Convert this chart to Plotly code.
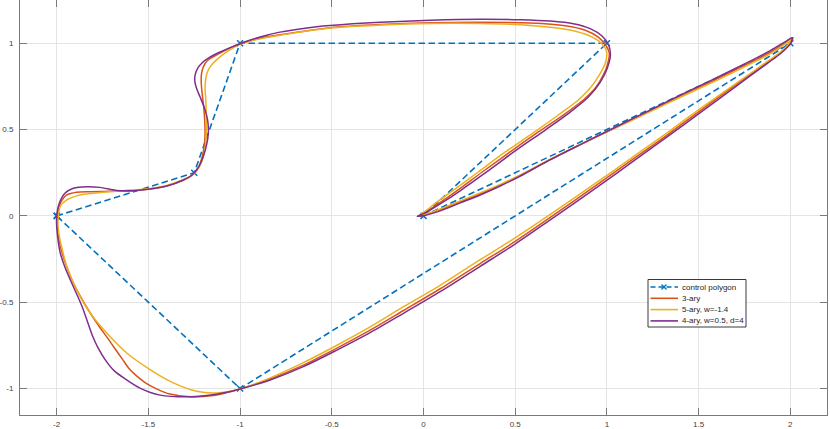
import plotly.graph_objects as go

# control polygon
ctrl_x = [-2, -1.25, -1, 1, 0, 2, -1, -2]
ctrl_y = [0, 0.25, 1, 1, 0, 1, -1, 0]

# 3-ary curve
c3_x = [-1.982, -1.996, -1.996, -1.980, -1.945, -1.891, -1.818, -1.709, -1.582, -1.491, -1.400, -1.309,
        -1.262, -1.229, -1.207, -1.195, -1.191, -1.193, -1.199, -1.207, -1.212, -1.210, -1.199, -1.178,
        -1.109, -1.044, -1.000, -0.891, -0.782, -0.509, -0.236, 0.037, 0.309, 0.582, 0.773, 0.882, 0.953,
        0.994, 1.013, 1.002, 0.980, 0.937, 0.871, 0.762, 0.626, 0.472, 0.320, 0.189, 0.080, 0.004, -0.032,
        0.009, 0.091, 0.200, 0.309, 0.418, 0.528, 0.673, 0.855, 1.037, 1.219, 1.400, 1.582, 1.764, 1.891,
        1.973, 2.014, 2.001, 1.946, 1.873, 1.691, 1.509, 1.328, 1.146, 0.964, 0.691, 0.491, 0.309, 0.091,
        -0.109, -0.291, -0.472, -0.655, -0.836, -1.000, -1.146, -1.273, -1.382, -1.458, -1.518, -1.566,
        -1.607, -1.640, -1.678, -1.720, -1.767, -1.818, -1.873, -1.917, -1.955, -1.982]
c3_y = [-0.168, -0.069, 0.006, 0.073, 0.121, 0.137, 0.140, 0.142, 0.146, 0.155, 0.173, 0.208,
        0.234, 0.277, 0.341, 0.410, 0.480, 0.555, 0.636, 0.711, 0.775, 0.827, 0.866, 0.900,
        0.942, 0.977, 0.997, 1.029, 1.049, 1.090, 1.108, 1.118, 1.121, 1.117, 1.101, 1.075, 1.035,
        0.988, 0.942, 0.873, 0.815, 0.740, 0.671, 0.584, 0.486, 0.370, 0.254, 0.150, 0.069, 0.017, -0.003,
        0.006, 0.035, 0.081, 0.127, 0.178, 0.234, 0.317, 0.413, 0.506, 0.600, 0.693, 0.784, 0.879, 0.948,
        1.003, 1.032, 1.000, 0.943, 0.887, 0.750, 0.610, 0.468, 0.331, 0.194, -0.009, -0.154, -0.276, -0.422,
        -0.548, -0.662, -0.766, -0.864, -0.944, -1.002, -1.040, -1.048, -1.032, -1.000, -0.965, -0.925,
        -0.882, -0.832, -0.775, -0.711, -0.642, -0.561, -0.462, -0.370, -0.266, -0.168]

# 5-ary curve, w=-1.4
c5_x = [-1.969, -1.984, -1.993, -1.991, -1.982, -1.945, -1.873, -1.764, -1.637, -1.491, -1.400, -1.309,
        -1.262, -1.224, -1.202, -1.189, -1.184, -1.184, -1.187, -1.191, -1.188, -1.180, -1.161, -1.127,
        -1.073, -1.000, -0.891, -0.782, -0.509, -0.236, 0.037, 0.309, 0.528, 0.691, 0.828, 0.920, 0.975,
        0.999, 0.991, 0.958, 0.909, 0.844, 0.735, 0.598, 0.446, 0.298, 0.173, 0.075, 0.004, -0.023,
        0.009, 0.091, 0.200, 0.309, 0.418, 0.528, 0.673, 0.855, 1.037, 1.219, 1.400, 1.582, 1.764, 1.891,
        1.967, 2.001, 1.990, 1.946, 1.873, 1.691, 1.509, 1.328, 1.146, 0.964, 0.691, 0.491, 0.309,
        0.091, -0.109, -0.291, -0.472, -0.655, -0.836, -1.000, -1.127, -1.236, -1.364, -1.491, -1.618,
        -1.727, -1.818, -1.891, -1.945, -1.969]
c5_y = [-0.197, -0.127, -0.058, -0.004, 0.052, 0.092, 0.121, 0.135, 0.146, 0.159, 0.176, 0.211,
        0.234, 0.280, 0.335, 0.399, 0.480, 0.566, 0.671, 0.740, 0.786, 0.827, 0.867, 0.905,
        0.950, 0.994, 1.026, 1.046, 1.088, 1.105, 1.114, 1.114, 1.107, 1.092, 1.069, 1.035, 0.994,
        0.948, 0.884, 0.815, 0.740, 0.671, 0.584, 0.480, 0.370, 0.254, 0.156, 0.081, 0.023, 0.003,
        0.009, 0.040, 0.087, 0.133, 0.182, 0.237, 0.318, 0.413, 0.504, 0.595, 0.687, 0.776, 0.870, 0.939,
        0.991, 1.017, 0.994, 0.948, 0.893, 0.757, 0.621, 0.481, 0.344, 0.208, 0.009, -0.133, -0.254,
        -0.402, -0.526, -0.643, -0.749, -0.850, -0.938, -1.002, -1.025, -1.016, -0.967, -0.890, -0.794,
        -0.678, -0.562, -0.428, -0.293, -0.197]

# 4-ary curve, w=0.5, d=4
c4_x = [-1.996, -2.001, -1.998, -1.986, -1.955, -1.909, -1.836, -1.764, -1.673, -1.582, -1.491, -1.400,
        -1.309, -1.262, -1.228, -1.202, -1.183, -1.173, -1.177, -1.194, -1.218, -1.238, -1.247, -1.244,
        -1.229, -1.205, -1.169, -1.127, -1.055, -1.000, -0.927, -0.854, -0.782, -0.645, -0.509, -0.236, 0.037,
        0.309, 0.528, 0.691, 0.817, 0.909, 0.975, 1.010, 1.019, 1.002, 0.964, 0.899, 0.800, 0.664, 0.500,
        0.337, 0.200, 0.091, 0.009, -0.034,
        0.009, 0.091, 0.200, 0.309, 0.418, 0.528, 0.673, 0.855, 1.037, 1.219, 1.400, 1.582, 1.764, 1.891,
        1.973, 2.010, 2.001, 1.946, 1.873, 1.691, 1.509, 1.328, 1.146, 0.964, 0.691, 0.491, 0.309, 0.091,
        -0.109, -0.291, -0.472, -0.655, -0.836, -1.000, -1.073, -1.182, -1.291, -1.436, -1.546, -1.625,
        -1.687, -1.736, -1.775, -1.805, -1.832, -1.859, -1.889, -1.926, -1.958, -1.982, -1.996]
c4_y = [-0.110, -0.035, 0.017, 0.073, 0.131, 0.160, 0.169, 0.165, 0.147, 0.146, 0.155, 0.173,
        0.208, 0.237, 0.280, 0.341, 0.410, 0.478, 0.555, 0.624, 0.688, 0.740, 0.780, 0.821,
        0.858, 0.888, 0.916, 0.940, 0.974, 0.997, 1.024, 1.046, 1.064, 1.087, 1.102, 1.121, 1.133,
        1.139, 1.136, 1.128, 1.113, 1.084, 1.040, 0.988, 0.931, 0.855, 0.775, 0.688, 0.601, 0.497, 0.376,
        0.249, 0.145, 0.069, 0.017, -0.002,
        0.003, 0.029, 0.075, 0.121, 0.173, 0.231, 0.315, 0.413, 0.509, 0.604, 0.699, 0.792, 0.887, 0.957,
        1.009, 1.032, 0.997, 0.939, 0.882, 0.740, 0.598, 0.457, 0.318, 0.179, -0.023, -0.169, -0.292, -0.439,
        -0.564, -0.676, -0.777, -0.873, -0.950, -1.002, -1.021, -1.040, -1.048, -1.038, -0.997, -0.945,
        -0.896, -0.832, -0.763, -0.694, -0.613, -0.532, -0.457, -0.370, -0.289, -0.208, -0.110]

x_ticks = [-2, -1.5, -1, -0.5, 0, 0.5, 1, 1.5, 2]
x_labels = ["-2", "-1.5", "-1", "-0.5", "0", "0.5", "1", "1.5", "2"]
y_ticks = [-1, -0.5, 0, 0.5, 1]
y_labels = ["-1", "-0.5", "0", "0.5", "1"]

legend_names = ["control polygon", "3-ary", "5-ary, w=-1.4", "4-ary, w=0.5, d=4"]
colors = ["#0072BD", "#D95319", "#EDB120", "#7E2F8E"]

FONT = "Liberation Sans, Arial, Helvetica, sans-serif"
W, H = 830, 429
ML, MR, MT, MB = 20, 3, 0, 14
PW, PH = W - ML - MR, H - MT - MB


def px(x):
    return (x - ML) / PW


def py(y):
    return 1 - (y - MT) / PH


fig = go.Figure()
fig.add_trace(go.Scatter(x=ctrl_x, y=ctrl_y, mode="lines+markers", name=legend_names[0],
                         line=dict(color=colors[0], width=1.6, dash="6.5px,3.5px"),
                         marker=dict(symbol="x-thin", size=6, line=dict(color=colors[0], width=1.5))))
for xs, ys, nm, col in [(c3_x, c3_y, legend_names[1], colors[1]),
                        (c5_x, c5_y, legend_names[2], colors[2]),
                        (c4_x, c4_y, legend_names[3], colors[3])]:
    fig.add_trace(go.Scatter(x=xs, y=ys, mode="lines", name=nm,
                             line=dict(color=col, width=1.5, shape="spline", smoothing=0.8)))

axis_common = dict(showline=True, linecolor="#7a7a7a", linewidth=1, mirror="ticks",
                   ticks="inside", ticklen=7, tickcolor="#7a7a7a", tickwidth=1,
                   showgrid=True, gridcolor="#e4e4e4", gridwidth=1, zeroline=False,
                   automargin=False,
                   tickfont=dict(family=FONT, size=8, color="#404040"))
fig.update_xaxes(range=[-2.2, 2.2], tickvals=x_ticks, ticktext=x_labels, ticklabelstandoff=1,
                 **axis_common)
fig.update_yaxes(range=[-1.153, 1.25], tickvals=y_ticks, ticktext=y_labels, ticklabelstandoff=4,
                 **axis_common)

# legend drawn as a small box (compact MATLAB-style rows)
shapes = [dict(type="rect", xref="paper", yref="paper", x0=px(648), x1=px(746), y0=py(327), y1=py(279.5),
               line=dict(color="#3a3a3a", width=1), fillcolor="white", layer="above")]
annotations = []
row_y = [287, 298.3, 309.6, 320.9]
for i, (nm, col) in enumerate(zip(legend_names, colors)):
    yy = row_y[i]
    ln = dict(color=col, width=1.6)
    if i == 0:
        ln["dash"] = "5px,3px"
    shapes.append(dict(type="line", xref="paper", yref="paper", x0=px(650.5), x1=px(678), y0=py(yy), y1=py(yy),
                       line=ln, layer="above"))
    if i == 0:
        for dx in (-2.5, 2.5):
            shapes.append(dict(type="line", xref="paper", yref="paper", x0=px(664 - dx), x1=px(664 + dx),
                               y0=py(yy - 2.5), y1=py(yy + 2.5), line=dict(color=col, width=1.3),
                               layer="above"))
    annotations.append(dict(text=nm, xref="paper", yref="paper", x=px(679.5), y=py(yy), xanchor="left",
                            yanchor="middle", showarrow=False,
                            font=dict(family=FONT, size=8, color="#262626")))

fig.update_layout(
    width=W, height=H,
    margin=dict(l=ML, r=MR, t=MT, b=MB),
    plot_bgcolor="white", paper_bgcolor="white",
    font=dict(family=FONT, size=8, color="#262626"),
    showlegend=False,
    shapes=shapes, annotations=annotations,
)
fig.write_html("out.html", config={"displayModeBar": False},
               post_script="document.body.style.margin='0px';")
